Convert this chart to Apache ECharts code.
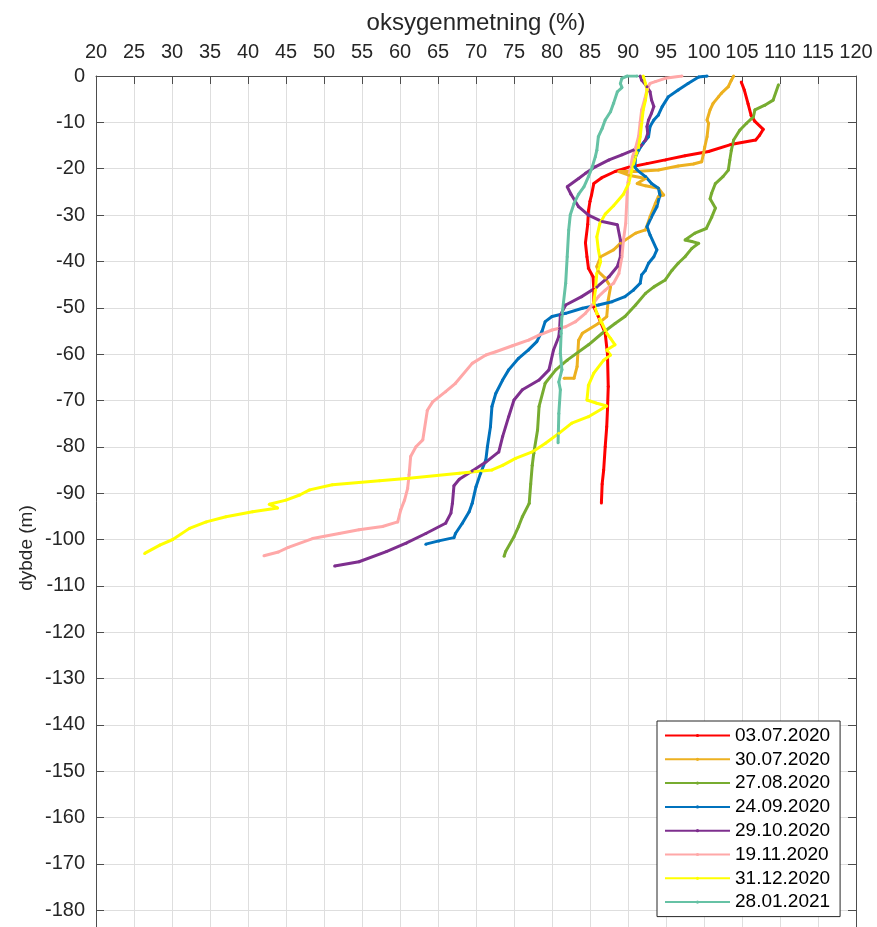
<!DOCTYPE html>
<html>
<head>
<meta charset="utf-8">
<script src="https://cdn.jsdelivr.net/npm/echarts@6/dist/echarts.min.js"></script>
<style>
  html, body { margin: 0; padding: 0; background: #fff; }
  #chart { width: 877px; height: 927px; }
</style>
</head>
<body>
<div id="chart"></div>
<script>
// Oxygen saturation profiles: [saturation %, depth m]
const d20200703 = [[104.9,-1.3],[105.3,-3],[105.8,-6],[106.2,-8.5],[106.7,-9.8],[107.8,-11.5],[107.3,-12.8],[106.8,-13.8],[103.5,-14.8],[100.6,-16.3],[97.5,-17.2],[94.9,-18.1],[92.5,-18.9],[90.1,-19.7],[88.3,-20.6],[86.5,-22],[85.5,-23.2],[85.2,-25.7],[85.0,-27],[84.8,-29],[84.7,-32],[84.4,-36],[84.6,-39],[84.8,-41.5],[85.4,-43.3],[85.5,-46],[85.5,-49.8],[86.1,-51.9],[87.0,-55.5],[87.3,-60],[87.4,-67],[87.3,-72],[87.2,-75.7],[87.0,-80],[86.8,-85],[86.6,-88],[86.5,-92.1]];
const d20200730 = [[103.9,0],[103.6,-0.9],[103.2,-2.3],[102.3,-3.7],[101.9,-4.5],[101.2,-5.9],[100.8,-7.3],[100.4,-9.5],[100.6,-10.2],[100.4,-13.1],[100.1,-15.3],[99.9,-17.0],[99.7,-18.5],[98.6,-19.0],[96.6,-19.4],[94.0,-20.3],[91.0,-20.6],[88.8,-20.6],[90.1,-21.4],[92.3,-22.1],[91.2,-23.2],[92.3,-23.7],[94.0,-24.2],[94.7,-25.7],[94.0,-26.0],[93.6,-27.5],[92.9,-30.4],[92.3,-33.2],[91.0,-33.9],[89.0,-36.1],[88.1,-37.5],[86.4,-39.0],[85.9,-41.1],[86.1,-42.2],[87.0,-43.6],[87.7,-45.5],[87.4,-48.3],[87.2,-51.9],[86.1,-53.4],[84.0,-55.5],[83.5,-57.0],[83.3,-62.7],[82.9,-65.2],[81.6,-65.2]];
const d20200827 = [[109.8,-1.9],[109.1,-5.2],[108.0,-6.3],[106.7,-7.3],[106.5,-8.8],[105.6,-10.2],[104.7,-11.7],[103.9,-13.8],[103.6,-16.0],[103.4,-18.1],[103.2,-20.3],[102.5,-21.7],[101.5,-23.2],[101.0,-25.3],[100.8,-26.5],[101.5,-28.5],[101.0,-30.5],[100.3,-32.9],[98.8,-33.9],[97.5,-35.4],[98.4,-35.7],[99.3,-36.1],[98.4,-37.2],[97.5,-39.0],[96.6,-40.4],[95.8,-41.9],[94.9,-44.0],[93.4,-45.5],[92.3,-46.9],[91.0,-49.4],[89.6,-51.9],[88.3,-53.4],[86.6,-55.5],[84.8,-58.0],[82.0,-61.3],[80.5,-63.4],[79.1,-66.3],[78.3,-71.3],[78.1,-76.4],[77.6,-81.4],[77.4,-84.0],[77.2,-88],[77.0,-92.2],[76.1,-95.1],[75.6,-97.2],[75.0,-99.4],[73.9,-102.6],[73.7,-103.6]];
const d20200924 = [[100.4,0],[99.3,-0.2],[97.9,-1.6],[96.6,-3.0],[95.3,-4.5],[94.5,-6.6],[94.0,-8.4],[93.4,-9.5],[92.9,-10.9],[92.7,-13.1],[92.0,-14.5],[91.4,-16.0],[91.0,-17.4],[90.9,-19.6],[91.2,-20.3],[92.3,-21.7],[93.1,-23.2],[94.0,-24.2],[94.2,-25.7],[93.8,-28.2],[93.1,-30.4],[92.5,-32.5],[92.9,-34.3],[93.8,-37.5],[93.4,-39.0],[92.7,-40.4],[92.3,-41.9],[91.8,-42.9],[91.6,-44.7],[90.7,-46.2],[89.6,-47.6],[87.9,-48.7],[86.1,-49.4],[84.0,-50.1],[81.8,-51.2],[80.0,-51.9],[79.1,-53.0],[78.7,-55],[78.0,-57.3],[76.9,-59.1],[75.6,-60.9],[74.3,-63.4],[73.5,-65.6],[72.6,-68.5],[72.1,-71.3],[71.9,-75.7],[71.5,-80],[71.3,-82.8],[70.6,-85.7],[70.0,-88.6],[69.5,-92.2],[69.1,-94.0],[68.2,-96.5],[67.3,-98.7],[67.1,-99.6],[65.1,-100.3],[63.4,-101.0]];
const d20201029 = [[91.6,0],[91.8,-0.9],[92.5,-2.3],[92.9,-3.4],[93.1,-5.2],[93.4,-6.6],[93.1,-8.0],[92.7,-9.5],[92.5,-10.9],[92.6,-12.4],[92.3,-13.8],[91.8,-14.9],[90.7,-16.0],[89.2,-17.0],[87.5,-18.1],[85.7,-19.6],[84.4,-21.0],[83.5,-22.1],[82.0,-23.9],[82.5,-25.5],[83.5,-28.2],[84.8,-30.0],[86.6,-31.4],[88.6,-32.1],[89.0,-35.4],[89.0,-39.0],[88.6,-41.1],[87.5,-43.3],[85.9,-45.5],[83.9,-47.6],[81.8,-49.4],[81.1,-51.6],[81.0,-54.5],[80.9,-56.2],[80.2,-59.1],[79.6,-63.4],[78.3,-65.6],[76.1,-67.7],[75.0,-69.9],[74.3,-73.5],[73.5,-77.8],[73.0,-81.1],[71.3,-83.3],[69.5,-85.2],[67.8,-87.0],[67.1,-88.4],[66.9,-92.2],[66.7,-94.3],[66.0,-96.5],[63.4,-98.7],[60.8,-100.8],[58.2,-102.6],[54.6,-104.8],[51.4,-105.7]];
const d20201119 = [[97.1,0],[94.9,-0.5],[93.6,-1.2],[92.9,-1.6],[92.5,-3.0],[92.2,-5],[91.8,-7.3],[91.6,-10],[91.4,-13],[91.0,-15.5],[90.6,-17.4],[90.3,-20],[90.0,-23],[89.9,-25],[89.7,-31.8],[89.4,-35.4],[89.2,-39.0],[88.8,-42.6],[88.1,-44.7],[87.0,-46.2],[86.1,-47.6],[85.3,-49.4],[84.4,-51.2],[83.1,-53.0],[81.8,-54.1],[80.0,-54.8],[78.3,-55.9],[76.9,-57.0],[74.8,-58.2],[72.6,-59.5],[71.3,-60.2],[69.5,-62.0],[67.3,-66.3],[66.0,-68.1],[64.3,-70.3],[63.6,-72.1],[63.0,-78.5],[62.1,-80.0],[61.4,-82.1],[61.2,-86],[61.0,-89],[60.6,-91.5],[60.1,-93.6],[59.7,-96.2],[57.7,-97.2],[54.6,-97.9],[52.0,-98.7],[48.5,-99.8],[45.3,-101.7],[44.0,-102.7],[42.1,-103.5]];
const d20201231 = [[92.0,0],[92.3,-1.6],[92.5,-3.0],[92.3,-5.2],[92.0,-7.3],[91.8,-10.2],[91.6,-13.1],[91.4,-15.3],[91.0,-17.4],[90.5,-20.3],[90.1,-23.2],[89.4,-25.5],[88.1,-28.0],[87.0,-29.8],[86.3,-31.8],[85.9,-34.7],[86.1,-37.5],[86.4,-40.1],[85.9,-42.6],[85.7,-46.2],[85.5,-49.0],[85.9,-51.2],[86.6,-53.4],[87.2,-55.5],[87.7,-56.6],[88.3,-58.0],[87.2,-59.1],[87.7,-60.2],[86.8,-61.3],[85.5,-64.1],[84.8,-66.7],[84.6,-69.9],[85.9,-70.6],[87.2,-71.2],[84.8,-73.5],[82.6,-74.9],[80.9,-77.1],[79.1,-79.3],[77.4,-81.1],[75.2,-82.5],[73.5,-84.0],[72.1,-85.0],[67.8,-85.7],[61.2,-86.8],[57.3,-87.3],[51.1,-88.2],[48.1,-89.3],[46.8,-90.4],[45.0,-91.5],[42.8,-92.4],[43.9,-93.2],[40.6,-94.0],[37.1,-95.1],[34.5,-96.2],[32.3,-97.6],[30.1,-100.0],[28.4,-101.2],[26.4,-103.0]];
const d20210128 = [[91.2,0],[89.9,0],[89.2,-0.5],[89.0,-1.6],[89.2,-2.5],[88.6,-3.4],[88.1,-5.9],[87.7,-7.7],[87.0,-9.5],[86.6,-11.3],[86.1,-13.1],[85.9,-16.0],[85.7,-17.4],[85.3,-19.6],[84.8,-21.7],[84.2,-23.9],[83.5,-25.5],[82.9,-27.5],[82.4,-30.0],[82.2,-33.2],[82.0,-39.0],[81.8,-44.7],[81.5,-49.0],[81.3,-51.9],[81.2,-55.5],[81.1,-59.8],[81.3,-63.4],[80.9,-66.0],[81.1,-67.7],[80.9,-72.8],[80.8,-79.1]];

const dates = ['03.07.2020','30.07.2020','27.08.2020','24.09.2020','29.10.2020','19.11.2020','31.12.2020','28.01.2021'];
const profiles = [d20200703, d20200730, d20200827, d20200924, d20201029, d20201119, d20201231, d20210128];
const palette = ['#ff0000','#edb120','#77ac30','#0072bd','#7e2f8e','#ffa8a8','#ffff00','#66c2a5'];

const FONT = 'Liberation Sans, Arial, Helvetica, sans-serif';
const AXIS_COLOR = '#4d4d4d';
const GRID_COLOR = '#dedede';

const chart = echarts.init(document.getElementById('chart'), null, { renderer: 'canvas' });

const series = profiles.map((p, i) => ({
  name: dates[i],
  type: 'line',
  data: p,
  xAxisIndex: 0,
  yAxisIndex: 0,
  symbol: 'circle',
  symbolSize: 3,
  showSymbol: true,
  lineStyle: { width: 3, color: palette[i] },
  itemStyle: { color: palette[i] },
  emphasis: { disabled: true },
  clip: true
}));

chart.setOption({
  animation: false,
  backgroundColor: '#fff',
  // the depth axis runs on below the visible area
  grid: { left: 96, top: 76, width: 760, height: 927, outerBoundsMode: 'none', containLabel: false },
  xAxis: {
    type: 'value', position: 'top', min: 20, max: 120, interval: 5,
    axisLine: { show: true, onZero: false, lineStyle: { color: AXIS_COLOR, width: 1 } },
    axisTick: { show: true, inside: true, length: 8, lineStyle: { color: AXIS_COLOR } },
    axisLabel: { fontFamily: FONT, fontSize: 20, color: '#262626', margin: 14 },
    splitLine: { show: true, lineStyle: { color: GRID_COLOR, width: 1 } }
  },
  yAxis: [{
    type: 'value', position: 'left', min: -200, max: 0, interval: 10,
    axisLine: { show: true, onZero: false, lineStyle: { color: AXIS_COLOR, width: 1 } },
    axisTick: { show: true, inside: true, length: 8, lineStyle: { color: AXIS_COLOR } },
    axisLabel: { fontFamily: FONT, fontSize: 20, color: '#262626', margin: 11 },
    splitLine: { show: true, lineStyle: { color: GRID_COLOR, width: 1 } }
  }, {
    type: 'value', position: 'right', min: -200, max: 0, interval: 10,
    axisLine: { show: true, onZero: false, lineStyle: { color: AXIS_COLOR, width: 1 } },
    axisTick: { show: true, inside: true, length: 8, lineStyle: { color: AXIS_COLOR } },
    axisLabel: { show: false },
    splitLine: { show: false }
  }],
  legend: {
    orient: 'vertical',
    left: 657, top: 721,
    padding: [5, 10, 5, 7],
    itemWidth: 65, itemHeight: 4, itemGap: 4.8,
    borderColor: '#262626', borderWidth: 1, backgroundColor: '#fff',
    textStyle: { fontFamily: FONT, fontSize: 19, color: '#000' },
    data: dates
  },
  graphic: [
    { type: 'text', x: 476, y: 23, silent: true,
      style: { text: 'oksygenmetning (%)', fontFamily: FONT, fontSize: 24, fill: '#262626', align: 'center', verticalAlign: 'middle' } },
    { type: 'text', x: 27, y: 548, rotation: Math.PI / 2, silent: true,
      style: { text: 'dybde (m)', fontFamily: FONT, fontSize: 19, fill: '#262626', align: 'center', verticalAlign: 'middle' } }
  ],
  series: series
});
</script>
</body>
</html>
